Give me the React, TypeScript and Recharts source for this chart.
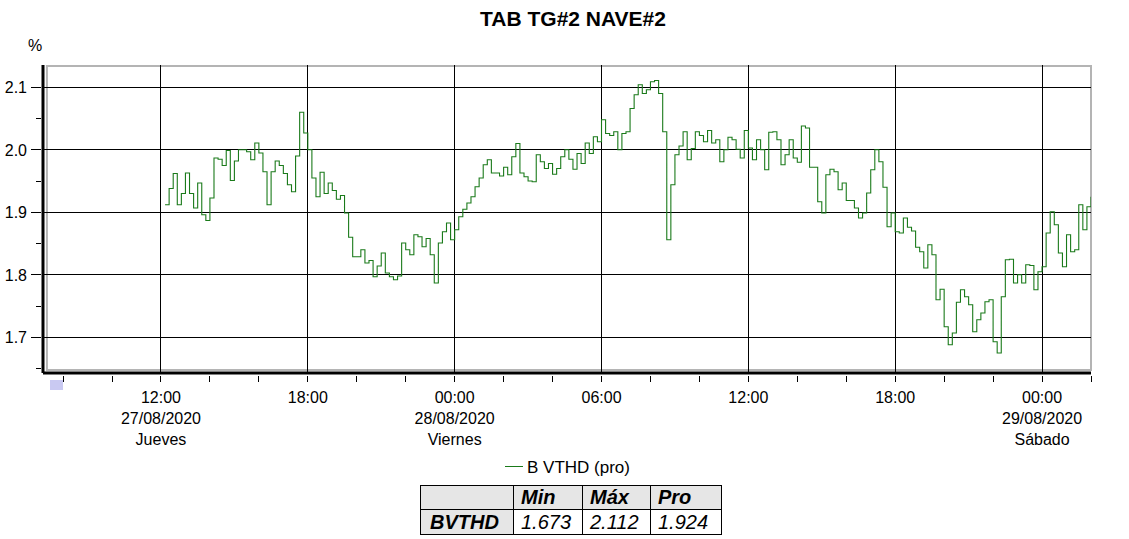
import { LineChart, Line, XAxis, YAxis, ReferenceLine, ReferenceArea } from 'recharts';

// hours counted from 27/08/2020 00:00, one sample every 10 minutes
const firstSampleHour = 12 + 10 / 60;

// 27/08 Jueves, 12:10 .. 23:50
const thu27 = [
    1.912, 1.938, 1.962, 1.912, 1.930,
    1.963, 1.930, 1.907, 1.947, 1.896, 1.887,
    1.923, 1.987, 1.985, 1.975, 1.999, 1.951,
    1.982, 2.000, 2.000, 1.997, 1.984, 2.011,
    1.995, 1.965, 1.912, 1.965, 1.982, 1.975,
    1.962, 1.944, 1.933, 1.990, 2.060, 2.027,
    2.000, 1.955, 1.925, 1.964, 1.930, 1.947,
    1.935, 1.921, 1.927, 1.899, 1.860, 1.829,
    1.829, 1.840, 1.819, 1.823, 1.797, 1.814,
    1.835, 1.803, 1.797, 1.792, 1.798, 1.851,
    1.840, 1.832, 1.864, 1.861, 1.845, 1.858,
    1.832, 1.787, 1.851, 1.869, 1.883, 1.856,
];

// 28/08 Viernes, 00:00 .. 23:50
const fri28 = [
    1.872, 1.893, 1.905, 1.915, 1.925, 1.941,
    1.955, 1.976, 1.984, 1.963, 1.963, 1.958,
    1.972, 1.960, 1.989, 2.010, 1.963, 1.957,
    1.950, 1.949, 1.992, 1.981, 1.970, 1.978,
    1.961, 1.970, 1.989, 2.000, 1.985, 1.969,
    1.994, 1.978, 2.011, 1.994, 2.021, 2.013,
    2.048, 2.026, 2.023, 2.029, 2.000, 2.026,
    2.029, 2.066, 2.088, 2.104, 2.090, 2.096,
    2.109, 2.111, 2.090, 2.029, 1.856, 1.944,
    1.992, 2.006, 2.029, 1.984, 2.002, 2.029,
    2.023, 2.013, 2.031, 2.011, 2.016, 1.981,
    2.000, 2.020, 2.016, 2.001, 1.987, 2.031,
    2.003, 1.984, 2.016, 2.000, 1.968, 2.028,
    2.029, 2.016, 1.976, 1.992, 2.016, 1.987,
    1.980, 2.038, 2.035, 1.972, 1.972, 1.917,
    1.899, 1.960, 1.969, 1.965, 1.936, 1.947,
    1.919, 1.919, 1.907, 1.891, 1.899, 1.931,
    1.968, 2.000, 1.981, 1.940, 1.877, 1.899,
    1.869, 1.867, 1.891, 1.876, 1.870, 1.844,
    1.837, 1.811, 1.848, 1.832, 1.760, 1.777,
    1.717, 1.688, 1.707, 1.756, 1.776, 1.765,
    1.752, 1.709, 1.728, 1.739, 1.757, 1.760,
    1.693, 1.675, 1.765, 1.824, 1.825, 1.787,
    1.800, 1.787, 1.816, 1.815, 1.776, 1.805,
];

// 29/08 Sábado, 00:00 .. 02:00
const sat29 = [
    1.813, 1.867, 1.901, 1.880, 1.835, 1.813,
    1.864, 1.837, 1.840, 1.912, 1.872, 1.909,
    1.925,
];

const xTicks = [8, 10, 12, 14, 16, 18, 20, 22, 24, 26, 28, 30, 32, 34, 36, 38, 40, 42, 44, 46, 48, 50];
const majorHours = [12, 18, 24, 30, 36, 42, 48];
const majorLabels = ['12:00', '18:00', '00:00', '06:00', '12:00', '18:00', '00:00'];
const dayHours = [12, 24, 48];
const dayDates = ['27/08/2020', '28/08/2020', '29/08/2020'];
const dayNames = ['Jueves', 'Viernes', 'Sábado'];

const yTicks = [1.65, 1.7, 1.75, 1.8, 1.85, 1.9, 1.95, 2.0, 2.05, 2.1];
const yGrid = [1.7, 1.8, 1.9, 2.0, 2.1];

const stats = { name: 'BVTHD', min: '1.673', max: '2.112', avg: '1.924' };

const FONT = '"Liberation Sans", Arial, sans-serif';
const GREEN = '#1a7a1a';

const allValues = [...thu27, ...fri28, ...sat29];
const data = allValues.map((v, i) => ({ t: firstSampleHour + i / 6, v }));

function XTick(props: any) {
    const { x, y, payload } = props;
    const i = majorHours.indexOf(payload.value);
    const d = dayHours.indexOf(payload.value);
    return (
        <g fontFamily={FONT} fontSize={16} fill="#000">
            <line x1={x} x2={x} y1={y + 1} y2={y + 7} stroke="#000" strokeWidth={1} shapeRendering="crispEdges" />
            {i >= 0 && <text x={x} y={y + 28} textAnchor="middle">{majorLabels[i]}</text>}
            {d >= 0 && <text x={x} y={y + 49} textAnchor="middle">{dayDates[d]}</text>}
            {d >= 0 && <text x={x} y={y + 70} textAnchor="middle">{dayNames[d]}</text>}
        </g>
    );
}

function YTick(props: any) {
    const { x, y, payload } = props;
    const v = payload.value;
    const major = Math.abs(v * 10 - Math.round(v * 10)) < 1e-6;
    return (
        <g fontFamily={FONT} fontSize={16} fill="#000">
            <line x1={major ? x - 10 : x - 5} x2={x} y1={y} y2={y} stroke="#000" strokeWidth={1} shapeRendering="crispEdges" />
            {major && <text x={x - 14} y={y + 6} textAnchor="end">{v.toFixed(1)}</text>}
        </g>
    );
}

const cell: any = { border: '1px solid #000', padding: '0 0 0 7px', textAlign: 'left', fontStyle: 'italic', whiteSpace: 'nowrap' };

export default function App() {
    return (
        <div style={{ position: 'absolute', left: 0, top: 0, width: 1129, height: 539, background: '#fff', fontFamily: FONT, overflow: 'hidden' }}>
            <div style={{ position: 'absolute', left: 373, top: 8, width: 400, textAlign: 'center', fontSize: 21, lineHeight: '21px', fontWeight: 'bold' }}>
                TAB TG#2 NAVE#2
            </div>
            <div style={{ position: 'absolute', left: 28, top: 38, fontSize: 16, lineHeight: '16px' }}>%</div>

            <div style={{ position: 'absolute', left: 0, top: 0 }}>
                <LineChart width={1129} height={539} data={data} margin={{ top: 65, right: 38, bottom: 86, left: 0 }}>
                    <XAxis
                        dataKey="t"
                        type="number"
                        domain={[7.18, 50]}
                        ticks={xTicks}
                        interval={0}
                        allowDataOverflow
                        height={80}
                        tickSize={0}
                        tickLine={false}
                        axisLine={{ stroke: '#000', strokeWidth: 3 }}
                        tick={<XTick />}
                    />
                    <YAxis
                        type="number"
                        domain={[1.6429, 2.1357]}
                        ticks={yTicks}
                        interval={0}
                        allowDataOverflow
                        width={43}
                        tickSize={0}
                        tickLine={false}
                        axisLine={{ stroke: '#000', strokeWidth: 3 }}
                        tick={<YTick />}
                    />
                    <ReferenceArea x1={7.34} x2={50} y1={1.6477} y2={2.134} fill="none" stroke="#b4b4b4" strokeWidth={2} />
                    {yGrid.map((g) => (
                        <ReferenceLine key={'y' + g} y={g} stroke="#000" strokeWidth={1} shapeRendering="crispEdges" />
                    ))}
                    {majorHours.map((h) => (
                        <ReferenceLine key={'x' + h} x={h} stroke="#000" strokeWidth={1} shapeRendering="crispEdges" />
                    ))}
                    <Line type="stepAfter" dataKey="v" stroke={GREEN} strokeWidth={1.1} dot={false} isAnimationActive={false} />
                </LineChart>
            </div>

            <div style={{ position: 'absolute', left: 50, top: 380, width: 13, height: 10, background: '#c9c9f2' }} />

            <div style={{ position: 'absolute', left: 505, top: 466, width: 18, height: 1, background: GREEN }} />
            <div style={{ position: 'absolute', left: 527, top: 459, fontSize: 17, lineHeight: '17px' }}>B VTHD (pro)</div>

            <table style={{ position: 'absolute', left: 420, top: 485, borderCollapse: 'collapse', fontSize: 20, fontFamily: FONT, tableLayout: 'fixed' }}>
                <colgroup>
                    <col style={{ width: 93 }} />
                    <col style={{ width: 69 }} />
                    <col style={{ width: 68 }} />
                    <col style={{ width: 71 }} />
                </colgroup>
                <tbody>
                    <tr style={{ height: 24, background: '#e6e6e6' }}>
                        <td style={cell}></td>
                        <td style={{ ...cell, fontWeight: 'bold' }}>Min</td>
                        <td style={{ ...cell, fontWeight: 'bold' }}>Máx</td>
                        <td style={{ ...cell, fontWeight: 'bold' }}>Pro</td>
                    </tr>
                    <tr style={{ height: 25 }}>
                        <td style={{ ...cell, fontWeight: 'bold', background: '#e6e6e6', paddingLeft: 9 }}>{stats.name}</td>
                        <td style={cell}>{stats.min}</td>
                        <td style={cell}>{stats.max}</td>
                        <td style={cell}>{stats.avg}</td>
                    </tr>
                </tbody>
            </table>
        </div>
    );
}
